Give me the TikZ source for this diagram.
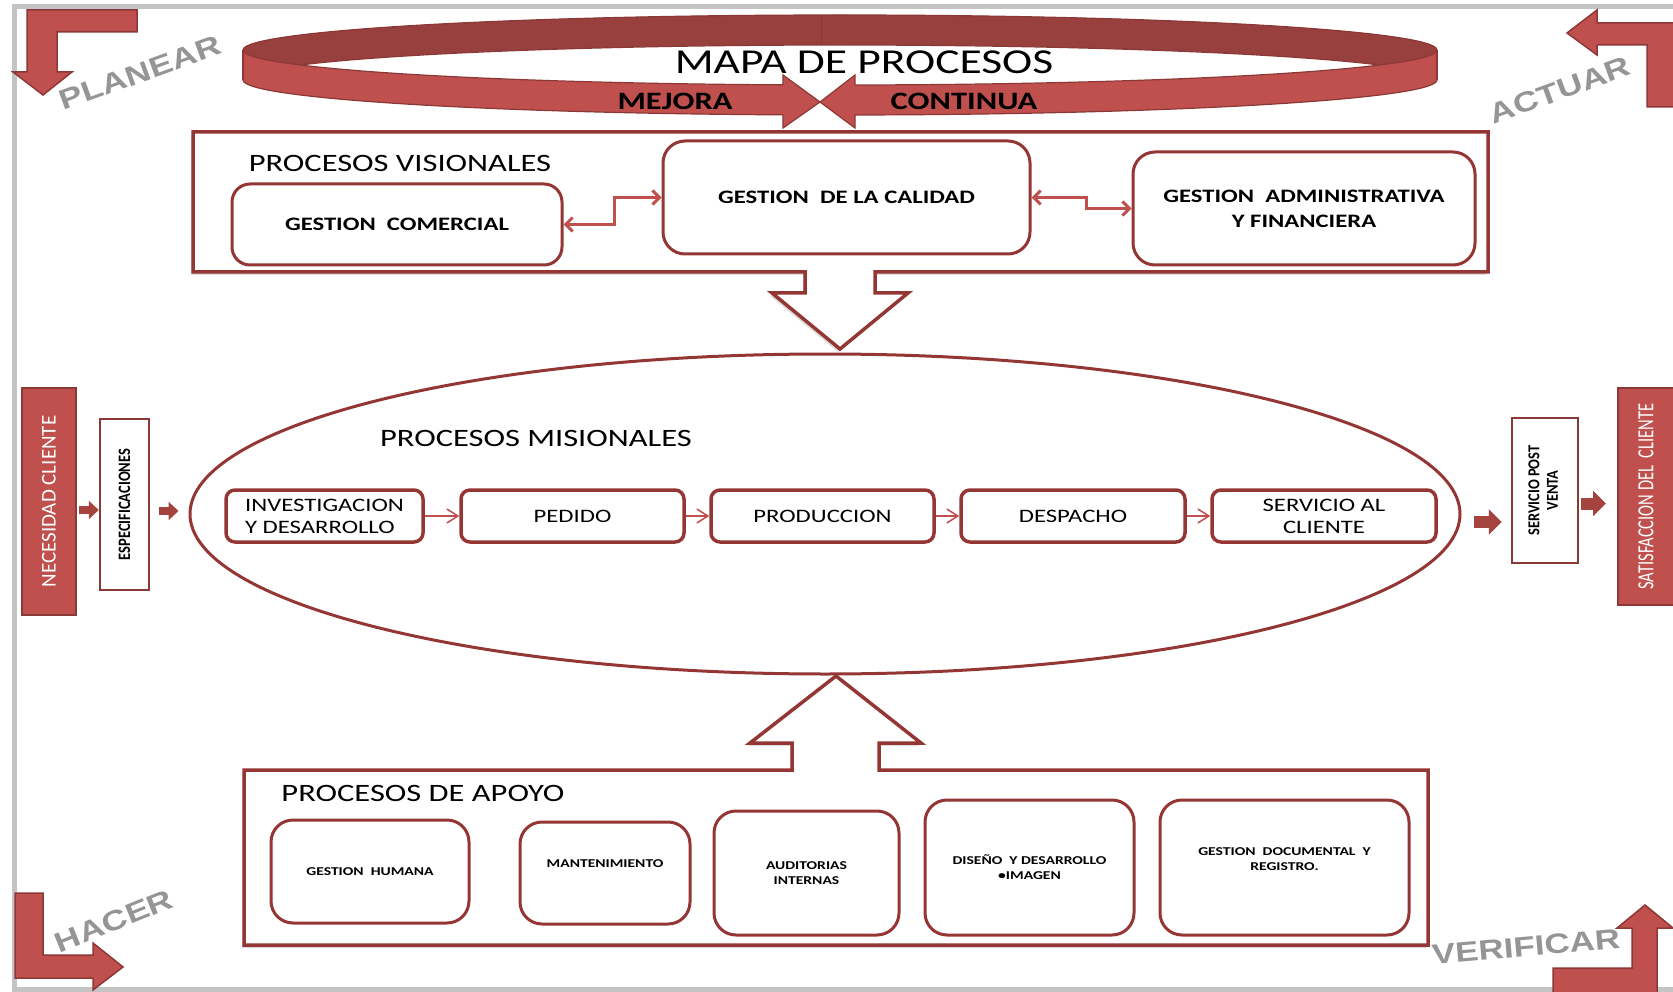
\documentclass[tikz,border=0pt]{standalone}
\usepackage{fontspec}
\usepackage{graphicx}
\setmainfont{Carlito}[FakeStretch=1.3]
\newfontfamily\narrowfont{Carlito}
\newfontfamily\pdcafont{Liberation Sans}[FakeStretch=1.25]
\usetikzlibrary{shapes.geometric,arrows.meta,shadows,calc}

\definecolor{redfill}{HTML}{C0504D}
\definecolor{redline}{HTML}{943634}
\definecolor{redback}{HTML}{98403E}
\definecolor{reddeep}{HTML}{8C3836}
\definecolor{redarrow}{HTML}{A5433F}
\definecolor{pdcagray}{HTML}{959595}
\definecolor{pageframe}{HTML}{C4C4C4}

\tikzset{
  shadowed/.style={drop shadow={shadow xshift=-2pt, shadow yshift=-3pt, opacity=.3, fill=black!45}},
  frameline/.style={draw=redline, line width=3.5pt, fill=white, line join=miter, shadowed},
  vbox/.style={draw=redline, line width=3pt, fill=white, rounded corners=18pt, align=center,
    font=\fontsize{19}{25}\selectfont\bfseries, inner sep=0pt},
  mbox/.style={draw=redline, line width=3.5pt, fill=white, rounded corners=9pt, minimum height=52pt,
    align=center, font=\fontsize{19}{22}\selectfont, inner sep=0pt},
  abox/.style={draw=redline, line width=3pt, fill=white, rounded corners=22pt, align=center,
    font=\fontsize{12}{15}\selectfont\bfseries, inner sep=0pt},
  apoyotext/.style={align=center, font=\fontsize{12}{15}\selectfont\bfseries, inner sep=0pt},
  sidebox/.style={draw=reddeep, line width=2pt, fill=redfill, text=white, inner sep=0pt},
  specbox/.style={draw=reddeep, line width=2.5pt, fill=white, inner sep=0pt,
    font=\narrowfont\fontsize{14.5}{16}\selectfont\bfseries},
  title/.style={inner sep=0pt, font=\fontsize{25}{30}\selectfont},
  ringtext/.style={inner sep=0pt, font=\fontsize{25}{30}\selectfont\bfseries},
  pdca/.style={inner sep=0pt, text=pdcagray, font=\pdcafont\bfseries\fontsize{28}{30}\selectfont},
  pdcaarrow/.style={fill=redfill, draw=reddeep, line width=1.5pt, line join=miter},
  varrow/.style={draw=redfill, line width=3pt,
    {Straight Barb[length=7pt,width=14pt]}-{Straight Barb[length=7pt,width=14pt]}},
  marrow/.style={draw=redfill, line width=1.5pt, -{Straight Barb[length=11pt,width=14pt]}},
  sarrowA/.style={draw=redarrow, line width=8pt, -{Triangle[length=10pt,width=18pt]}},
  sarrowB/.style={draw=redarrow, line width=12pt, -{Triangle[length=13pt,width=25pt]}},
}

\begin{document}
\begin{tikzpicture}[x=1pt, y=-1pt]
\useasboundingbox (0,0) rectangle (1673,992);

% page frame
\draw[pageframe, line width=5pt] (14,7) rectangle (1720,989);

% ---- ring "MAPA DE PROCESOS" ----
\fill[redfill] (243,50) rectangle (1437,80);
\fill[redfill] (840,50) ellipse [x radius=597, y radius=35];
\fill[redfill] (840,80) ellipse [x radius=597, y radius=35];
\fill[redback] (840,50) ellipse [x radius=597, y radius=35];
\begin{scope}
  \clip (840,50) ellipse [x radius=597, y radius=35];
  \fill[white] (840,80) ellipse [x radius=597, y radius=35];
  \draw[reddeep, line width=1.2pt] (840,80) ellipse [x radius=597, y radius=35];
\end{scope}
\draw[reddeep, line width=1.2pt] (840,50) ellipse [x radius=597, y radius=35];
\begin{scope}
  \clip (0,80) rectangle (1700,200);
  \draw[reddeep, line width=1.2pt] (840,80) ellipse [x radius=597, y radius=35];
\end{scope}
\draw[reddeep, line width=1.2pt] (243,50) -- (243,80) (1437,50) -- (1437,80);
\draw[reddeep, line width=0.8pt] (821,15) -- (821,45);
% meeting arrowheads
\fill[white] (783,81) rectangle (855,122);
\fill[redfill] (783,75) -- (820,102) -- (783,128) -- cycle;
\fill[redfill] (855,75) -- (820,102) -- (855,128) -- cycle;
\draw[reddeep, line width=1.2pt, line join=miter] (783,85) -- (783,75) -- (820,102) -- (783,128) -- (783,115);
\draw[reddeep, line width=1.2pt, line join=miter] (855,85) -- (855,75) -- (820,102) -- (855,128) -- (855,115);
\node[inner sep=0pt, font=\fontsize{35}{40}\selectfont] (mapa) at (864,62) {MAPA DE PROCESOS};
\node[ringtext] (mejora) at (675,101) {MEJORA};
\node[ringtext] (continua) at (964,101) {CONTINUA};

% ---- PDCA corner arrows ----
\draw[pdcaarrow] (137,10) -- (27,10) -- (27,72) -- (13,72) -- (43,95) -- (72,72) -- (57,72) -- (57,32) -- (137,32) -- cycle;
\draw[pdcaarrow] (1567,33) -- (1597,10) -- (1597,23) -- (1690,23) -- (1690,107) -- (1647,107) -- (1647,45) -- (1597,45) -- (1597,55) -- cycle;
\draw[pdcaarrow] (15,893) -- (43,893) -- (43,955) -- (93,955) -- (93,943) -- (123,967) -- (93,990) -- (93,978) -- (15,978) -- cycle;
\draw[pdcaarrow] (1645,905) -- (1673,928) -- (1657,928) -- (1657,1005) -- (1553,1005) -- (1553,968) -- (1632,968) -- (1632,928) -- (1617,928) -- cycle;
\node[pdca, rotate=20] (planear) at (140,73) {PLANEAR};
\node[pdca, rotate=20] (actuar) at (1560,90) {ACTUAR};
\node[pdca, rotate=22] (hacer) at (114,921) {HACER};
\node[pdca, rotate=5] (verificar) at (1526,947) {VERIFICAR};

% ---- frames with block arrows ----
\draw[frameline] (193,132) -- (1488,132) -- (1488,272) -- (875,272) -- (875,293) -- (908,293)
  -- (840,349) -- (772,293) -- (805,293) -- (805,272) -- (193,272) -- cycle;
\draw[frameline] (244,770) -- (792,770) -- (792,743) -- (750,743) -- (836,676) -- (921,743)
  -- (879,743) -- (879,770) -- (1428,770) -- (1428,945) -- (244,945) -- cycle;

% ---- procesos visionales ----
\node[title] (tvis) at (400,163) {PROCESOS VISIONALES};
\node[vbox, minimum width=330pt, minimum height=81pt] (com) at (397,224.5) {GESTION\ \ COMERCIAL};
\node[vbox, minimum width=367pt, minimum height=113pt, rounded corners=22pt] (cal) at (846.5,197.5) {GESTION\ \ DE LA CALIDAD};
\node[vbox, minimum width=342pt, minimum height=113pt, rounded corners=22pt] (adm) at (1304,208.5) {GESTION\ \ ADMINISTRATIVA\\Y FINANCIERA};
\draw[varrow] (com.east) -- ++(51,0) |- (cal.west);
\draw[varrow] (cal.east) -- ++(55,0) |- (adm.west);

% ---- procesos misionales ----
\node[ellipse, draw=redline, line width=3pt, fill=white, minimum width=1270pt, minimum height=320pt, inner sep=0pt] (mis) at (825,514) {};
\node[title] (tmis) at (536,438) {PROCESOS MISIONALES};
\node[mbox, minimum width=197pt, align=left] (inv) at (324.5,516) {INVESTIGACION\\Y DESARROLLO};
\node[mbox, minimum width=223pt] (ped) at (572.5,516) {PEDIDO};
\node[mbox, minimum width=223pt] (pro) at (822.5,516) {PRODUCCION};
\node[mbox, minimum width=224pt] (des) at (1073,516) {DESPACHO};
\node[mbox, minimum width=224pt] (ser) at (1324,516) {SERVICIO AL\\CLIENTE};
\draw[marrow] (inv) -- (ped);
\draw[marrow] (ped) -- (pro);
\draw[marrow] (pro) -- (des);
\draw[marrow] (des) -- (ser);

% ---- procesos de apoyo ----
\node[title] (tapo) at (423,793) {PROCESOS DE APOYO};
\node[abox, minimum width=198pt, minimum height=103pt] (gh) at (370,871.5) {GESTION\ \ HUMANA};
\node[abox, minimum width=170pt, minimum height=102pt,
  label={[apoyotext, yshift=9pt]center:MANTENIMIENTO}] (man) at (605,873) {};
\node[abox, minimum width=185pt, minimum height=124pt] (aud) at (806.5,873) {AUDITORIAS\\INTERNAS};
\node[abox, minimum width=209pt, minimum height=135pt] (dis) at (1029.5,867.5) {DISEÑO\ \ Y DESARROLLO\\\textbullet IMAGEN};
\node[abox, minimum width=249pt, minimum height=135pt,
  label={[apoyotext, yshift=8pt]center:{GESTION\ \ DOCUMENTAL\ \ Y\\REGISTRO.}}] (doc) at (1284.5,867.5) {};

% ---- client side boxes ----
\node[sidebox, minimum width=54pt, minimum height=227pt] (nec) at (49,501.5)
  {\rotatebox{90}{\narrowfont\fontsize{21}{24}\selectfont NECESIDAD CLIENTE}};
\node[specbox, minimum width=49pt, minimum height=171pt] (esp) at (124.5,504.5)
  {\rotatebox{90}{\scalebox{1}[1.2]{ESPECIFICACIONES}}};
\node[specbox, minimum width=66pt, minimum height=145pt] (post) at (1545,490.5)
  {\rotatebox{90}{\scalebox{1}[1.15]{\begin{tabular}{@{}c@{}}SERVICIO POST\\VENTA\end{tabular}}}};
\node[sidebox, minimum width=56pt, minimum height=217pt] (sat) at (1646,496.5)
  {\rotatebox{90}{\scalebox{1}[1.4]{\narrowfont\fontsize{16.5}{20}\selectfont SATISFACCION DEL\ \ CLIENTE}}};

\coordinate (n1) at ([yshift=-8.5pt]nec.east);
\coordinate (e1) at ([yshift=-6.5pt]esp.east);
\coordinate (m1) at ([yshift=-8pt]mis.east);
\coordinate (p1) at ([yshift=-13pt]post.east);
\draw[sarrowA, shorten <=2pt] (n1) -- (n1 -| esp.west);
\draw[sarrowA, shorten <=9pt, shorten >=10pt] (e1) -- (e1 -| mis.west);
\draw[sarrowB, shorten <=12pt, shorten >=9pt] (m1) -- (m1 -| post.west);
\draw[sarrowB, shorten <=2pt, shorten >=11pt] (p1) -- (p1 -| sat.west);

\end{tikzpicture}
\end{document}
